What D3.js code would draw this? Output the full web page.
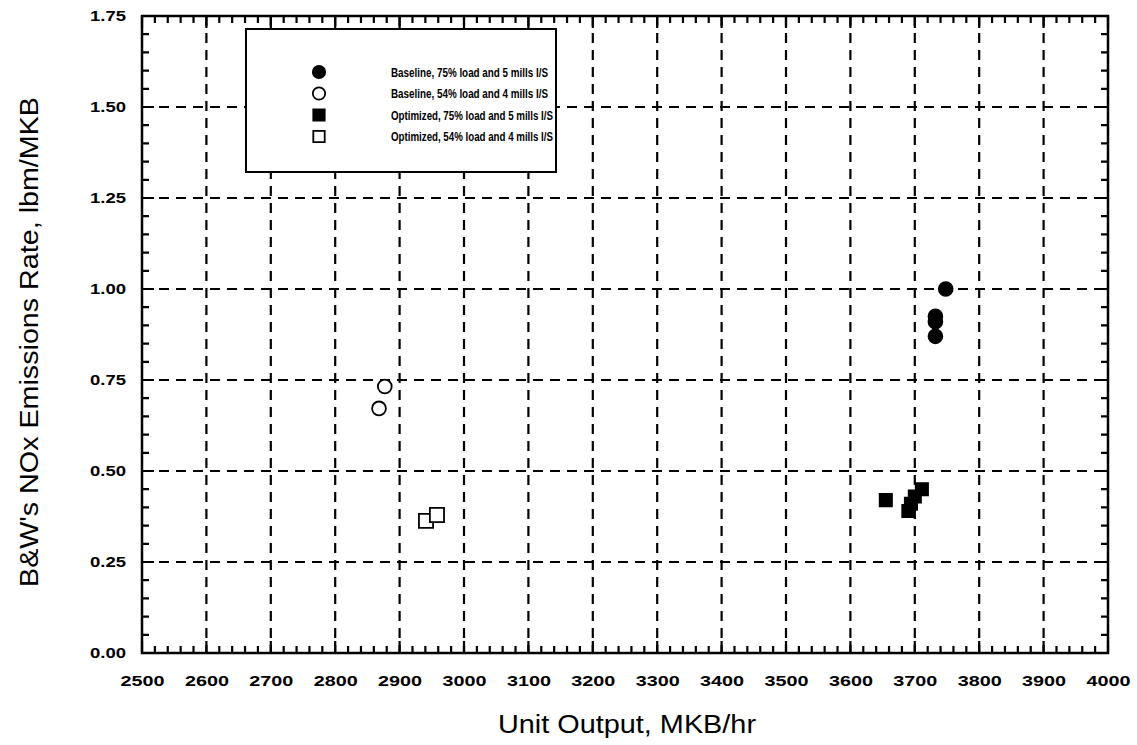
<!DOCTYPE html>
<html>
<head>
<meta charset="utf-8">
<script src="https://cdn.jsdelivr.net/npm/d3@7"></script>
<style>
  body { margin: 0; background: #fff; }
  svg text { fill: #000; }
</style>
</head>
<body>
<svg id="chart" width="1137" height="745"></svg>
<script>
// series
var baseline75 = [[3748, 1.00], [3732, 0.925], [3732, 0.91], [3732, 0.87]];
var baseline54 = [[2877, 0.732], [2868, 0.672]];
var optimized75 = [[3655, 0.42], [3690, 0.39], [3694, 0.41], [3700, 0.43], [3711, 0.45]];
var optimized54 = [[2941, 0.363], [2958, 0.379]];

var legendLabels = [
  "Baseline, 75% load and 5 mills I/S",
  "Baseline, 54% load and 4 mills I/S",
  "Optimized, 75% load and 5 mills I/S",
  "Optimized, 54% load and 4 mills I/S"
];
var xTicks = [2500, 2600, 2700, 2800, 2900, 3000, 3100, 3200, 3300, 3400, 3500, 3600, 3700, 3800, 3900, 4000];
var yTicks = [0, 0.25, 0.5, 0.75, 1.0, 1.25, 1.5, 1.75];

var margin = {left: 142, top: 16, right: 29, bottom: 92};
var width = 1137 - margin.left - margin.right,
    height = 745 - margin.top - margin.bottom;

var svg = d3.select("#chart");
var g = svg.append("g").attr("transform", "translate(" + margin.left + "," + margin.top + ")");

var x = d3.scaleLinear().domain([2500, 4000]).range([0, width]);
var y = d3.scaleLinear().domain([0, 1.75]).range([height, 0]);

var xMinor = d3.range(2500, 4001, 20);
var yMinor = d3.range(0, 1.751, 0.05);

// dashed grid
g.append("g").selectAll("line")
    .data(xTicks.slice(1, -1)).enter().append("line")
    .attr("x1", function(d) { return x(d); }).attr("x2", function(d) { return x(d); })
    .attr("y1", 0).attr("y2", height)
    .attr("stroke", "#000").attr("stroke-width", 2.2).attr("stroke-dasharray", "10,7");
g.append("g").selectAll("line")
    .data(yTicks.slice(1, -1)).enter().append("line")
    .attr("y1", function(d) { return y(d); }).attr("y2", function(d) { return y(d); })
    .attr("x1", 0).attr("x2", width)
    .attr("stroke", "#000").attr("stroke-width", 2.2).attr("stroke-dasharray", "10,7");

// inward ticks on all four sides, as one path
var tickPath = d3.path();
xMinor.forEach(function(d) {
  tickPath.moveTo(x(d), height); tickPath.lineTo(x(d), height - 7);
  tickPath.moveTo(x(d), 0); tickPath.lineTo(x(d), 7);
});
yMinor.forEach(function(d) {
  tickPath.moveTo(0, y(d)); tickPath.lineTo(7, y(d));
  tickPath.moveTo(width, y(d)); tickPath.lineTo(width - 7, y(d));
});
xTicks.forEach(function(d) {
  tickPath.moveTo(x(d), height); tickPath.lineTo(x(d), height - 12);
  tickPath.moveTo(x(d), 0); tickPath.lineTo(x(d), 12);
});
yTicks.forEach(function(d) {
  tickPath.moveTo(0, y(d)); tickPath.lineTo(12, y(d));
  tickPath.moveTo(width, y(d)); tickPath.lineTo(width - 12, y(d));
});
g.append("path").attr("d", tickPath.toString())
    .attr("fill", "none").attr("stroke", "#000").attr("stroke-width", 2.2);

// tick labels
var xAxis = g.append("g").attr("transform", "translate(0," + height + ")")
    .call(d3.axisBottom(x).tickValues(xTicks).tickSize(0).tickPadding(22).tickFormat(d3.format("d")));
xAxis.select(".domain").remove();
xAxis.selectAll("text").attr("font-family", "Liberation Sans, Arial, sans-serif")
    .attr("font-size", 15).attr("font-weight", "bold")
    .attr("textLength", 44).attr("lengthAdjust", "spacingAndGlyphs");

var yAxis = g.append("g")
    .call(d3.axisLeft(y).tickValues(yTicks).tickSize(0).tickPadding(16).tickFormat(d3.format(".2f")));
yAxis.select(".domain").remove();
yAxis.selectAll("text").attr("font-family", "Liberation Sans, Arial, sans-serif")
    .attr("font-size", 15).attr("font-weight", "bold")
    .attr("textLength", 36).attr("lengthAdjust", "spacingAndGlyphs");

// frame
g.append("rect").attr("width", width).attr("height", height)
    .attr("fill", "none").attr("stroke", "#000").attr("stroke-width", 2.5);

// legend
var lg = g.append("g").attr("transform", "translate(" + (246 - margin.left) + "," + (29 - margin.top) + ")");
lg.append("rect").attr("width", 310).attr("height", 143)
    .attr("fill", "#fff").attr("stroke", "#000").attr("stroke-width", 2);

var symbols = [
  {shape: d3.symbolCircle, fill: "#000"},
  {shape: d3.symbolCircle, fill: "#fff"},
  {shape: d3.symbolSquare, fill: "#000"},
  {shape: d3.symbolSquare, fill: "#fff"}
];
legendLabels.forEach(function(label, i) {
  var ly = 43 + i * 21.5;
  lg.append("path")
    .attr("d", d3.symbol().type(symbols[i].shape).size(symbols[i].shape === d3.symbolCircle ? 120 : 130))
    .attr("transform", "translate(73," + ly + ")")
    .attr("fill", symbols[i].fill).attr("stroke", "#000").attr("stroke-width", 1.8);
  lg.append("text").attr("x", 145).attr("y", ly + 4.5)
    .attr("font-family", "Liberation Sans, Arial, sans-serif").attr("font-size", 12.5).attr("font-weight", "bold")
    .attr("textLength", i < 2 ? 157 : 162).attr("lengthAdjust", "spacingAndGlyphs")
    .text(label);
});

// data points
function drawSeries(data, shape, fill, size) {
  g.append("g").selectAll("path")
    .data(data).enter().append("path")
    .attr("d", d3.symbol().type(shape).size(size))
    .attr("transform", function(d) { return "translate(" + x(d[0]) + "," + y(d[1]) + ")"; })
    .attr("fill", fill).attr("stroke", "#000").attr("stroke-width", 1.8);
}
drawSeries(baseline75, d3.symbolCircle, "#000", 150);
drawSeries(baseline54, d3.symbolCircle, "#fff", 150);
drawSeries(optimized54, d3.symbolSquare, "#fff", 200);
drawSeries(optimized75, d3.symbolSquare, "#000", 150);

// axis titles
svg.append("text")
    .attr("x", 627).attr("y", 733)
    .attr("text-anchor", "middle")
    .attr("font-family", "Liberation Sans, Arial, sans-serif").attr("font-size", 25)
    .attr("textLength", 258).attr("lengthAdjust", "spacingAndGlyphs")
    .text("Unit Output, MKB/hr");
svg.append("text")
    .attr("transform", "translate(38,342) rotate(-90)")
    .attr("text-anchor", "middle")
    .attr("font-family", "Liberation Sans, Arial, sans-serif").attr("font-size", 26)
    .attr("textLength", 490).attr("lengthAdjust", "spacingAndGlyphs")
    .text("B&W's NOx Emissions Rate, lbm/MKB");
</script>
</body>
</html>
